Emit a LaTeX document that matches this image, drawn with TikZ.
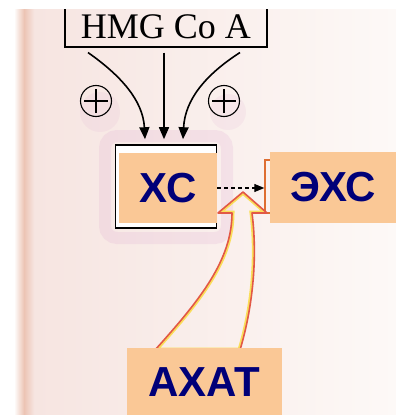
\documentclass[tikz,border=0pt]{standalone}
\usepackage{fontspec}
\setmainfont{Liberation Serif}
\newfontfamily\labelfont{Liberation Sans}
\usetikzlibrary{arrows.meta,positioning,calc}
\definecolor{paper}{RGB}{246,228,224}
\definecolor{paperlight}{RGB}{253,249,247}
\definecolor{binding}{RGB}{236,196,180}
\definecolor{peach}{RGB}{250,200,150}
\definecolor{navy}{RGB}{0,0,120}
\definecolor{smudge}{RGB}{220,160,205}
\definecolor{arrowred}{RGB}{226,88,70}
\definecolor{arrowyellow}{RGB}{250,222,90}
\definecolor{frameorange}{RGB}{222,110,50}
\newcommand\ahatpath{(243,192) -- (267,213) -- (252,213) .. controls (258,260) and (252,310) .. (240,350) -- (155,350) .. controls (200,300) and (232,260) .. (232,213) -- (218,213) -- cycle}

\begin{document}
\begin{tikzpicture}[x=1pt,y=-1pt,
  labelbox/.style={fill=peach,text=navy,inner sep=0pt,font=\labelfont\bfseries\fontsize{42}{42}\selectfont},
  oldbox/.style={draw,line width=1.6pt,inner sep=0pt},
  plusmark/.style={circle,draw,line width=1.1pt,minimum size=31pt,inner sep=0pt,
    path picture={\draw[line width=1.1pt] ([xshift=-12pt]path picture bounding box.center) -- ++(24pt,0pt)
      ([yshift=-12pt]path picture bounding box.center) -- ++(0pt,24pt);}},
  feed/.style={-{Triangle[length=12pt,width=10pt]},line width=1.6pt}]
\useasboundingbox (0,0) rectangle (396,415);
% scanned page
\shade[left color=paper,right color=paperlight] (18,0) rectangle (396,415);
\shade[left color=white,right color=binding] (14,0) rectangle (24,415);
\shade[left color=binding,right color=paper] (24,0) rectangle (34,415);
\fill[smudge,opacity=.12] (100,112) circle (20pt) (228,112) circle (18pt);
\draw[smudge,opacity=.18,line width=12pt,rounded corners=12pt] (105,136) rectangle (227,238);

% HMG Co A and its feeds
\node[draw,line width=1.1pt,minimum width=202pt,minimum height=40pt,inner sep=0pt,font=\fontsize{36}{36}\selectfont] (hmg) at (166,27) {HMG Co A};
\fill[white] (0,0) rectangle (396,9);
\node[oldbox,fill=white,minimum width=101pt,minimum height=83pt] (xcframe) at (166,186.5) {};
\node[plusmark] (plusl) at (96,101) {};
\node[plusmark] (plusr) at (224,101) {};
\draw[feed] ([xshift=-78pt,yshift=-5pt]hmg.south) .. controls (120,75) and (143,100) .. ([xshift=-21pt,yshift=5pt]xcframe.north);
\draw[feed] ([xshift=-2pt,yshift=-5pt]hmg.south) -- ([xshift=-2pt,yshift=5pt]xcframe.north);
\draw[feed] ([xshift=74pt,yshift=-5pt]hmg.south) .. controls (205,75) and (185,100) .. ([xshift=17pt,yshift=5pt]xcframe.north);

% labels
\node[draw=frameorange,line width=1.4pt,minimum width=60pt,minimum height=53pt] (ehcframe) at (295,186.5) {};
\node[labelbox,minimum width=98pt,minimum height=70pt] (xc) at (168,188) {ХС};
\node[labelbox,minimum width=126pt,minimum height=71pt] (ehc) at (333,187.5) {ЭХС};
\draw[-{Triangle[length=10pt,width=8pt]},line width=1.2pt,dash pattern=on 4pt off 3pt] (xc.east) -- (xc.east -| ehcframe.west);

% big arrow from AXAT
\begin{scope}
\clip \ahatpath;
\draw[arrowyellow,line width=5pt] \ahatpath;
\end{scope}
\draw[arrowred,line width=1.6pt,line join=round] \ahatpath;
\node[labelbox,minimum width=155pt,minimum height=68pt] (ahat) at (204.5,382) {АХАТ};
\end{tikzpicture}
\end{document}
